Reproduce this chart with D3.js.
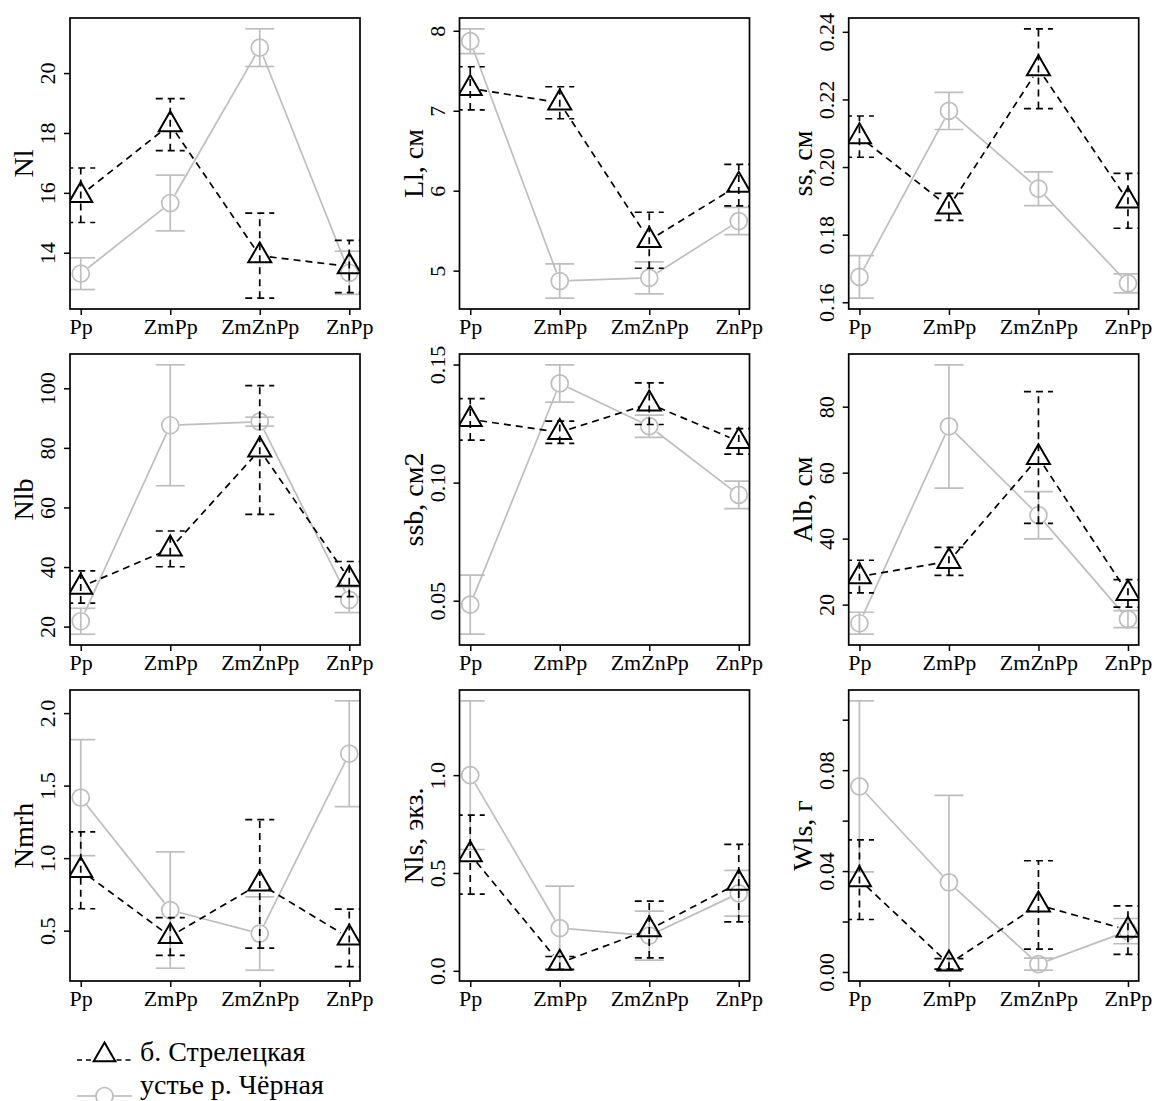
<!DOCTYPE html>
<html>
<head>
<meta charset="utf-8">
<script src="https://cdn.jsdelivr.net/npm/d3@7"></script>
<style>
  html, body { margin: 0; padding: 0; background: #fff; }
  svg, svg text { font-family: "Liberation Serif", "DejaVu Serif", serif; }
  svg { display: block; }
</style>
</head>
<body>
<svg id="chart" width="1154" height="1101"></svg>
<script>
// Treatments on the x axis
const categories = ["Pp", "ZmPp", "ZmZnPp", "ZnPp"];

// Y axis titles, one per panel (row by row)
const yTitles = ["Nl", "Ll, см", "ss, см", "Nlb", "ssb, см2", "Alb, см", "Nmrh", "Nls, экз.", "Wls, г"];

// Series names
const seriesNames = ["б. Стрелецкая", "устье р. Чёрная"];

// б. Стрелецкая: means per panel and half-widths of the error bars
const strelMean = [
  [15.92, 18.28, 13.90, 13.54],
  [7.28, 7.10, 5.38, 6.07],
  [0.209, 0.1882, 0.2291, 0.190],
  [33.3, 46.1, 79.3, 35.95],
  [0.1268, 0.1213, 0.1334, 0.1175],
  [28.5, 33.1, 64.6, 23.4],
  [0.916, 0.46, 0.823, 0.45],
  [0.594, 0.04, 0.211, 0.448],
  [0.0366, 0.0032, 0.0266, 0.0166]
];
const strelErr = [
  [0.91, 0.87, 1.42, 0.87],
  [0.27, 0.20, 0.35, 0.26],
  [0.0061, 0.0040, 0.0118, 0.0081],
  [5.4, 6.0, 21.6, 5.9],
  [0.0088, 0.0047, 0.0088, 0.0054],
  [4.94, 4.23, 19.97, 4.18],
  [0.265, 0.13, 0.443, 0.198],
  [0.202, 0.033, 0.145, 0.198],
  [0.0158, 0.0021, 0.0175, 0.0096]
];

// устье р. Чёрная: means per panel and half-widths of the error bars
const chernMean = [
  [13.30, 15.66, 20.85, 13.33],
  [7.87, 4.87, 4.91, 5.62],
  [0.1675, 0.2166, 0.1936, 0.1656],
  [21.8, 87.6, 88.8, 29.0],
  [0.0483, 0.1420, 0.1239, 0.0948],
  [14.35, 74.0, 47.1, 15.6],
  [1.417, 0.642, 0.48, 1.72],
  [1.0, 0.218, 0.18, 0.396],
  [0.0736, 0.0355, 0.0031, 0.0162]
];
const chernErr = [
  [0.53, 0.93, 0.63, 0.72],
  [0.155, 0.215, 0.20, 0.17],
  [0.0063, 0.0055, 0.0050, 0.0028],
  [4.36, 20.3, 1.5, 4.3],
  [0.0125, 0.0079, 0.0047, 0.0058],
  [3.33, 18.7, 7.16, 2.6],
  [0.40, 0.401, 0.253, 0.365],
  [0.38, 0.215, 0.125, 0.117],
  [0.0339, 0.0345, 0.0024, 0.005]
];

// Y tick positions and their labels (empty label = tick without text)
const yTicks = [
  [14, 16, 18, 20],
  [5, 6, 7, 8],
  [0.16, 0.18, 0.20, 0.22, 0.24],
  [20, 40, 60, 80, 100],
  [0.05, 0.10, 0.15],
  [20, 40, 60, 80],
  [0.5, 1.0, 1.5, 2.0],
  [0.0, 0.5, 1.0],
  [0.00, 0.02, 0.04, 0.06, 0.08, 0.10]
];
const yTickLabels = [
  ["14", "16", "18", "20"],
  ["5", "6", "7", "8"],
  ["0.16", "0.18", "0.20", "0.22", "0.24"],
  ["20", "40", "60", "80", "100"],
  ["0.05", "0.10", "0.15"],
  ["20", "40", "60", "80"],
  ["0.5", "1.0", "1.5", "2.0"],
  ["0.0", "0.5", "1.0"],
  ["0.00", "", "0.04", "", "0.08", ""]
];

// ---- layout ----
const colX = [70, 459.5, 848.7];
const rowY = [18, 354, 690];
const W = 290, H = 291;
const GRAY = "#bebebe";
const DASH = "7,5";
const SERIF = '"Liberation Serif", "DejaVu Serif", serif';
const capHalf = 14.5;
const triR = 13.3;   // distance from centroid to apex
const circR = 8.5;

const svg = d3.select("#chart");

const x = d3.scaleLinear().domain([0.88, 4.12]).range([0, W]);

function trianglePath(cx, cy, r) {
  const xc = r * 0.8660, yc = r * 0.5;
  return `M${cx},${cy - r}L${cx + xc},${cy + yc}L${cx - xc},${cy + yc}Z`;
}

function drawSeries(g, y, means, errs, opts) {
  const pts = means.map((m, i) => [x(i + 1), y(m)]);
  // connecting segments, leaving a gap around each marker
  for (let i = 0; i < pts.length - 1; i++) {
    const [x1, y1] = pts[i], [x2, y2] = pts[i + 1];
    const dx = x2 - x1, dy = y2 - y1, len = Math.hypot(dx, dy);
    if (len <= 2 * opts.gap) continue;
    const ux = dx / len, uy = dy / len;
    g.append("line")
      .attr("x1", x1 + ux * opts.gap).attr("y1", y1 + uy * opts.gap)
      .attr("x2", x2 - ux * opts.gap).attr("y2", y2 - uy * opts.gap)
      .attr("stroke", opts.color).attr("stroke-width", opts.lw)
      .attr("stroke-dasharray", opts.dash);
  }
  // error bars
  means.forEach((m, i) => {
    const cx = x(i + 1), lo = y(m - errs[i]), hi = y(m + errs[i]);
    const eb = g.append("g")
      .attr("stroke", opts.color).attr("stroke-width", opts.lw)
      .attr("stroke-dasharray", opts.dash).attr("fill", "none");
    eb.append("line").attr("x1", cx).attr("x2", cx).attr("y1", lo).attr("y2", hi);
    eb.append("line").attr("x1", cx - capHalf).attr("x2", cx + capHalf).attr("y1", hi).attr("y2", hi);
    eb.append("line").attr("x1", cx - capHalf).attr("x2", cx + capHalf).attr("y1", lo).attr("y2", lo);
  });
  // markers
  pts.forEach(([px, py]) => {
    if (opts.shape === "triangle") {
      g.append("path").attr("d", trianglePath(px, py, triR))
        .attr("fill", "none").attr("stroke", opts.color).attr("stroke-width", 2);
    } else {
      g.append("circle").attr("cx", px).attr("cy", py).attr("r", circR)
        .attr("fill", "none").attr("stroke", opts.color).attr("stroke-width", 1.7);
    }
  });
}

for (let p = 0; p < 9; p++) {
  const col = p % 3, row = Math.floor(p / 3);
  const g = svg.append("g").attr("transform", `translate(${colX[col]},${rowY[row]})`);

  // y range from the error-bar ends, padded 4% on each side
  const ends = [];
  strelMean[p].forEach((m, i) => { ends.push(m - strelErr[p][i], m + strelErr[p][i]); });
  chernMean[p].forEach((m, i) => { ends.push(m - chernErr[p][i], m + chernErr[p][i]); });
  const [lo, hi] = d3.extent(ends);
  const pad = (hi - lo) * 0.04;
  const y = d3.scaleLinear().domain([lo - pad, hi + pad]).range([H, 0]);

  // clip region for the data marks
  const clipId = "clip" + p;
  g.append("clipPath").attr("id", clipId)
    .append("rect").attr("x", 0).attr("y", 0).attr("width", W).attr("height", H);
  const data = g.append("g").attr("clip-path", `url(#${clipId})`);

  drawSeries(data, y, chernMean[p], chernErr[p],
    { color: GRAY, lw: 1.7, dash: null, shape: "circle", gap: 9.5 });
  drawSeries(data, y, strelMean[p], strelErr[p],
    { color: "#000", lw: 1.7, dash: DASH, shape: "triangle", gap: 10 });

  // bottom axis
  const xa = g.append("g").attr("transform", `translate(0,${H})`)
    .call(d3.axisBottom(x).tickValues([1, 2, 3, 4])
      .tickFormat((d, i) => categories[i]).tickSize(6));
  xa.attr("font-family", null).attr("font-size", null);
  xa.select(".domain").remove();
  xa.selectAll("line").attr("stroke-width", 1.5);
  xa.selectAll("text").attr("y", 25).attr("dy", null)
    .style("font-family", SERIF).style("font-size", "22px").attr("fill", "#000");

  // left axis, labels parallel to the axis
  const ya = g.append("g")
    .call(d3.axisLeft(y).tickValues(yTicks[p])
      .tickFormat((d, i) => yTickLabels[p][i]).tickSize(6));
  ya.attr("font-family", null).attr("font-size", null);
  ya.select(".domain").remove();
  ya.selectAll("line").attr("stroke-width", 1.5);
  ya.selectAll("text").attr("x", null).attr("dy", null)
    .attr("transform", "translate(-15,0) rotate(-90)")
    .attr("text-anchor", "middle")
    .style("font-family", SERIF).style("font-size", "22px").attr("fill", "#000");

  // y title
  g.append("text")
    .attr("transform", `translate(-37,${H / 2}) rotate(-90)`)
    .attr("text-anchor", "middle")
    .style("font-family", SERIF).style("font-size", "28px")
    .text(yTitles[p]);

  // frame
  g.append("rect").attr("x", 0).attr("y", 0).attr("width", W).attr("height", H)
    .attr("fill", "none").attr("stroke", "#000").attr("stroke-width", 1.7);
}

// ---- legend ----
const lg = svg.append("g");
const lx0 = 77, lx1 = 132, lmid = 104.5;
const ly1 = 1055, ly2 = 1096;
lg.append("line").attr("x1", lx0).attr("x2", lmid - 12).attr("y1", ly1 + 5).attr("y2", ly1 + 5)
  .attr("stroke", "#000").attr("stroke-width", 1.7).attr("stroke-dasharray", "5,4");
lg.append("line").attr("x1", lmid + 12).attr("x2", lx1).attr("y1", ly1 + 5).attr("y2", ly1 + 5)
  .attr("stroke", "#000").attr("stroke-width", 1.7).attr("stroke-dasharray", "5,4");
lg.append("path").attr("d", trianglePath(lmid, ly1, 12.5))
  .attr("fill", "none").attr("stroke", "#000").attr("stroke-width", 2);
lg.append("text").attr("x", 140).attr("y", 1061)
  .style("font-family", SERIF).style("font-size", "28px").text(seriesNames[0]);

lg.append("line").attr("x1", lx0).attr("x2", lmid - circR).attr("y1", ly2).attr("y2", ly2)
  .attr("stroke", GRAY).attr("stroke-width", 1.7);
lg.append("line").attr("x1", lmid + circR).attr("x2", lx1).attr("y1", ly2).attr("y2", ly2)
  .attr("stroke", GRAY).attr("stroke-width", 1.7);
lg.append("circle").attr("cx", lmid).attr("cy", ly2).attr("r", circR)
  .attr("fill", "none").attr("stroke", GRAY).attr("stroke-width", 1.7);
lg.append("text").attr("x", 140).attr("y", 1094)
  .style("font-family", SERIF).style("font-size", "28px").text(seriesNames[1]);
</script>
</body>
</html>
